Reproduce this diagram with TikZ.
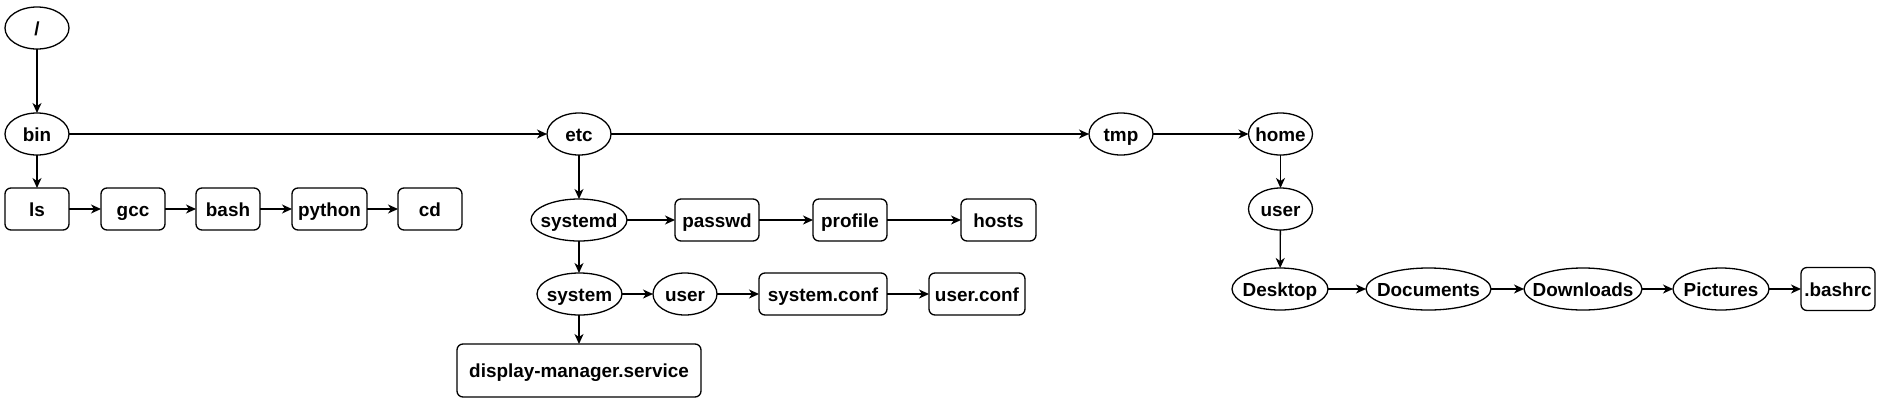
\documentclass[tikz,border=0pt]{standalone}
\usepackage{fontspec}
\setmainfont{Liberation Sans}
\usetikzlibrary{shapes.geometric,arrows.meta}
\newcommand{\lbl}[1]{\smash{\makebox[0pt]{\raisebox{-7.2pt}{#1}}}}
\tikzset{
  base/.style={draw=black, line width=1.3pt, inner sep=0pt, outer sep=0pt,
    font=\fontsize{18.9}{22}\selectfont\bfseries, text=black},
  ell/.style={base, ellipse, minimum width=#1, minimum height=42pt},
  ell/.default=64pt,
  box/.style={base, rectangle, rounded corners=6pt, minimum width=#1, minimum height=42pt},
  box/.default=64pt,
  conn/.style={draw=black, line width=1.3pt, -{Stealth[length=10pt,width=9pt,inset=3pt]}}
}
\begin{document}
\begin{tikzpicture}[x=1pt,y=-1pt]
\useasboundingbox (0,0) rectangle (1883,413);
% top level
\node[ell] (root) at (37,28) {\lbl{/}};
\node[ell] (bin) at (37,134) {\lbl{bin}};
\node[ell] (etc) at (579,134) {\lbl{etc}};
\node[ell] (tmp) at (1121,134) {\lbl{tmp}};
\node[ell] (home) at (1280.5,134) {\lbl{home}};
% bin row
\node[box] (ls) at (37,209) {\lbl{ls}};
\node[box] (gcc) at (133,209) {\lbl{gcc}};
\node[box] (bash) at (228,209) {\lbl{bash}};
\node[box=75pt] (python) at (329.5,209) {\lbl{python}};
\node[box] (cd) at (430,209) {\lbl{cd}};
% etc subtree
\node[ell=96pt] (systemd) at (579,220) {\lbl{systemd}};
\node[box=84pt] (passwd) at (717,220) {\lbl{passwd}};
\node[box=74pt] (profile) at (850,220) {\lbl{profile}};
\node[box=75pt] (hosts) at (998.5,220) {\lbl{hosts}};
\node[ell=85pt] (system) at (579.5,294) {\lbl{system}};
\node[ell] (usere) at (685,294) {\lbl{user}};
\node[box=128pt] (sysconf) at (823,294) {\lbl{system.conf}};
\node[box=96pt] (userconf) at (977,294) {\lbl{user.conf}};
\node[box=244pt, minimum height=53pt] (dm) at (579,370.5) {\lbl{display-manager.service}};
% home subtree
\node[ell] (userh) at (1280.5,209) {\lbl{user}};
\node[ell=96pt] (desktop) at (1280,289) {\lbl{Desktop}};
\node[ell=125pt] (documents) at (1428.5,289) {\lbl{Documents}};
\node[ell=118pt] (downloads) at (1583,289) {\lbl{Downloads}};
\node[ell=96pt] (pictures) at (1721,289) {\lbl{Pictures}};
\node[box=74pt, minimum height=43pt] (bashrc) at (1838,289) {\lbl{.bashrc}};
% connectors
\draw[conn] (root) -- (bin);
\draw[conn] (bin) -- (etc);
\draw[conn] (etc) -- (tmp);
\draw[conn] (tmp) -- (home);
\draw[conn] (bin) -- (ls);
\draw[conn] (ls) -- (gcc);
\draw[conn] (gcc) -- (bash);
\draw[conn] (bash) -- (python);
\draw[conn] (python) -- (cd);
\draw[conn] (etc) -- (systemd);
\draw[conn] (systemd) -- (passwd);
\draw[conn] (passwd) -- (profile);
\draw[conn] (profile) -- (hosts);
\draw[conn] (systemd.south) -- (system.north -| systemd.south);
\draw[conn] (system) -- (usere);
\draw[conn] (usere) -- (sysconf);
\draw[conn] (sysconf) -- (userconf);
\draw[conn] (system.south -| dm.north) -- (dm.north);
\draw[conn] (home) -- (userh);
\draw[conn] (userh) -- (desktop);
\draw[conn] (desktop) -- (documents);
\draw[conn] (documents) -- (downloads);
\draw[conn] (downloads) -- (pictures);
\draw[conn] (pictures) -- (bashrc);
\end{tikzpicture}
\end{document}
